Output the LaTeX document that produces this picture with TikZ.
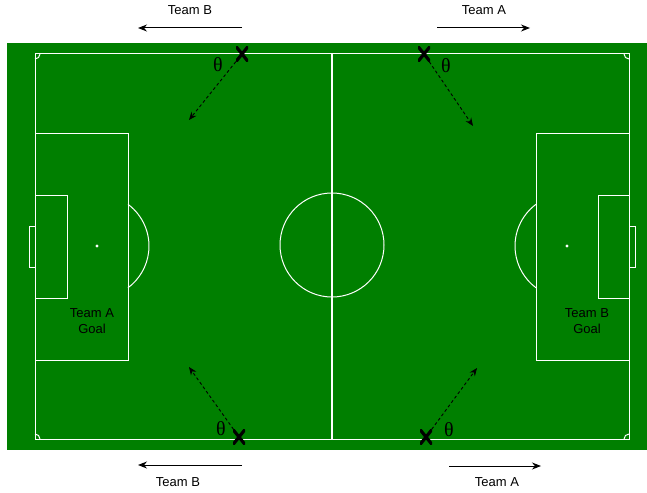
\documentclass[tikz,border=0pt]{standalone}
\usepackage{fontspec}
\setmainfont{Liberation Sans}
\newfontfamily\thetafont{Liberation Serif}
\usetikzlibrary{arrows.meta}
\definecolor{pitch}{HTML}{007F00}
\begin{document}
\begin{tikzpicture}[x=1pt,y=-1pt,
  wl/.style={draw=white,line width=1pt},
  xmark/.style={inner sep=0pt,minimum width=12pt,minimum height=15pt,path picture={
     \draw[line width=3.2pt,black] (path picture bounding box.north west) -- (path picture bounding box.south east)
       (path picture bounding box.south west) -- (path picture bounding box.north east);}},
  dasharrow/.style={dash pattern=on 3pt off 2.5pt,line width=0.9pt,-{Stealth[length=8pt,width=6.5pt]}},
  teamarrow/.style={line width=1pt,-{Stealth[length=9pt,width=7pt]}},
  lbl/.style={font=\fontsize{13}{15.5}\selectfont,align=center,inner sep=0pt,text=black},
  th/.style={font=\thetafont\fontsize{20}{20}\selectfont,inner sep=0pt}]
\useasboundingbox (0,0) rectangle (647,492);
\fill[pitch] (7,43) rectangle (647,450);
% outer lines
\draw[wl] (35,54) rectangle (629,439);
\draw[white,line width=1.6pt] (332,54) -- (332,439);
\draw[wl] (332,245) circle[radius=52];
\fill[white] (332,245) circle[radius=1];
% left
\draw[wl] (35,133) rectangle (128,360);
\draw[wl] (35,195) rectangle (67,298);
\draw[wl] (29,226) rectangle (35,267);
\fill[white] (97,246) circle[radius=1.6];
\draw[wl] (128,204.3) arc[start angle=-53.4,end angle=53.4,radius=52];
% right
\draw[wl] (536,133) rectangle (629,360);
\draw[wl] (598,195) rectangle (629,298);
\draw[wl] (629,226) rectangle (635,267);
\fill[white] (567,246) circle[radius=1.6];
\draw[wl] (536,204.3) arc[start angle=-126.6,end angle=-233.4,radius=52];
% corner arcs
\draw[wl] (40,54) arc[start angle=0,end angle=90,radius=5];
\draw[wl] (629,59) arc[start angle=90,end angle=180,radius=5];
\draw[wl] (35,434) arc[start angle=270,end angle=360,radius=5];
\draw[wl] (624,439) arc[start angle=180,end angle=270,radius=5];
% goal labels
\node[lbl] (goalA) at (92,321) {Team A\\Goal};
\node[lbl] (goalB) at (587,321) {Team B\\Goal};
% crosses
\node[xmark] (x1) at (242,54) {};
\node[xmark] (x2) at (424,54) {};
\node[xmark] (x3) at (239,437) {};
\node[xmark] (x4) at (426,437) {};
% dashed direction arrows
\coordinate (d1) at (189,120);
\coordinate (d2) at (473,126);
\coordinate (d3) at (189,367);
\coordinate (d4) at (477,368);
\draw[dasharrow] (x1) -- (d1);
\draw[dasharrow] (x2) -- (d2);
\draw[dasharrow] (x3) -- (d3);
\draw[dasharrow] (x4) -- (d4);
% thetas
\node[th] (t1) at (218,65) {θ};
\node[th] (t2) at (446,66) {θ};
\node[th] (t3) at (221,429) {θ};
\node[th] (t4) at (449,430) {θ};
% team direction arrows
\coordinate (a1s) at (242,28); \coordinate (a1e) at (138,28);
\coordinate (a2s) at (437,28); \coordinate (a2e) at (530,28);
\coordinate (a3s) at (242,465); \coordinate (a3e) at (138,465);
\coordinate (a4s) at (449,466); \coordinate (a4e) at (541,466);
\draw[teamarrow] (a1s) -- (a1e);
\draw[teamarrow] (a2s) -- (a2e);
\draw[teamarrow] (a3s) -- (a3e);
\draw[teamarrow] (a4s) -- (a4e);
\node[lbl] (tB1) at (190,10) {Team B};
\node[lbl] (tA1) at (484,10) {Team A};
\node[lbl] (tB2) at (178,482) {Team B};
\node[lbl] (tA2) at (497,482) {Team A};
\end{tikzpicture}
\end{document}
